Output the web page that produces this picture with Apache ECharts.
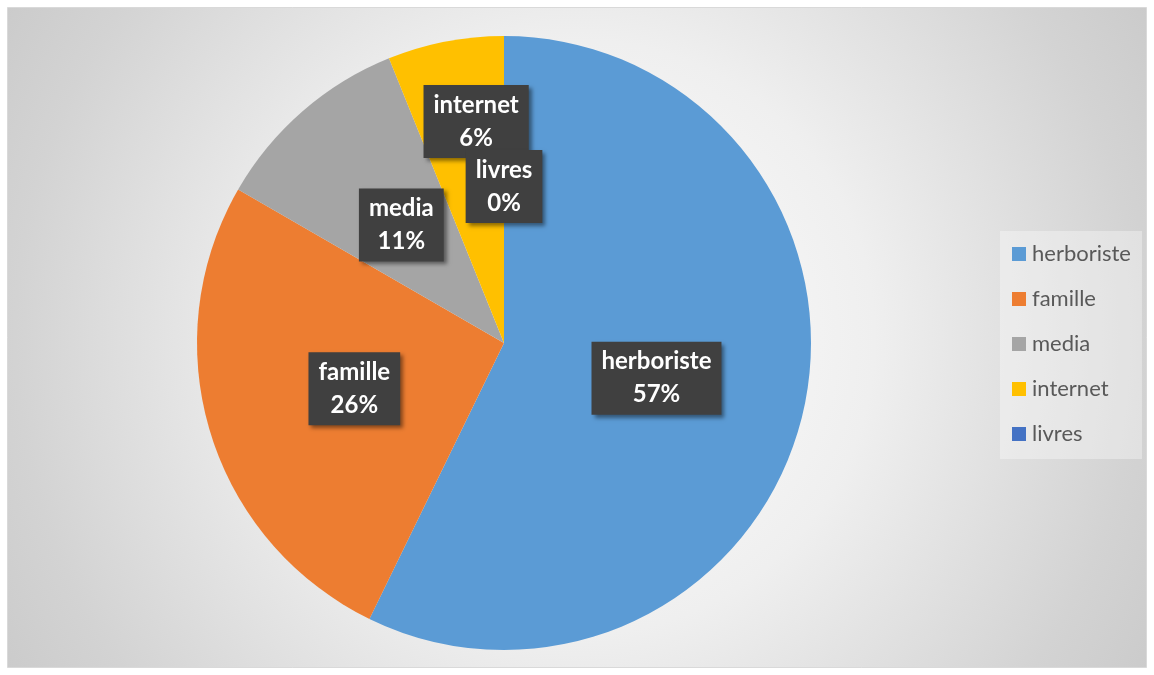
<!DOCTYPE html>
<html>
<head>
<meta charset="utf-8">
<script src="https://cdn.jsdelivr.net/npm/echarts@6/dist/echarts.min.js"></script>
<style>
  html, body { margin: 0; padding: 0; background: #fff; }
  #chart { width: 1154px; height: 675px; }
</style>
</head>
<body>
<div id="chart"></div>
<script>
const categories = ['herboriste', 'famille', 'media', 'internet', 'livres']
const values = [103, 47, 19, 11, 0]
const colors = ['#5B9BD5', '#ED7D31', '#A5A5A5', '#FFC000', '#4472C4']

const chart = echarts.init(document.getElementById('chart'), null, { renderer: 'canvas' })

chart.setOption({
  animation: false,
  graphic: [{
    type: 'rect',
    z: -10,
    shape: { x: 7.5, y: 7.5, width: 1139, height: 660 },
    style: {
      fill: new echarts.graphic.RadialGradient(0.5, 0.5, 1, [
        { offset: 0, color: '#ffffff' },
        { offset: 0.45, color: '#efefef' },
        { offset: 0.85, color: '#d3d3d3' },
        { offset: 1, color: '#cbcbcb' },
      ]),
      stroke: '#d9d9d9',
      lineWidth: 1,
    },
  }],
  legend: {
    orient: 'vertical',
    left: 1000,
    top: 231,
    icon: 'rect',
    itemWidth: 14,
    itemHeight: 14,
    itemGap: 23,
    padding: [12, 11, 14, 12],
    backgroundColor: 'rgba(255,255,255,0.35)',
    textStyle: { fontFamily: 'Lato', fontSize: 22, lineHeight: 22, color: '#595959', padding: [0, 0, 0, 1] },
    data: categories,
  },
  series: [{
    type: 'pie',
    center: [504, 343],
    radius: 307,
    startAngle: 90,
    clockwise: true,
    percentPrecision: 0,
    avoidLabelOverlap: false,
    itemStyle: { borderWidth: 0 },
    emphasis: { disabled: true },
    label: {
      show: true,
      position: 'inside',
      formatter: '{b}\n{d}%',
      fontFamily: 'Lato',
      fontWeight: 'bold',
      fontSize: 24,
      lineHeight: 33,
      color: '#ffffff',
      backgroundColor: '#404040',
      padding: [3, 10, 4, 10],
      shadowColor: 'rgba(0,0,0,0.45)',
      shadowBlur: 4,
      shadowOffsetX: 3,
      shadowOffsetY: 3,
    },
    labelLayout(params) {
      if (params.dataIndex === 3) return { dx: 2, dy: -68 }
      return {}
    },
    labelLine: { show: false },
    data: categories.map((name, i) => ({ name, value: values[i], itemStyle: { color: colors[i] } })),
  }],
})
</script>
</body>
</html>
